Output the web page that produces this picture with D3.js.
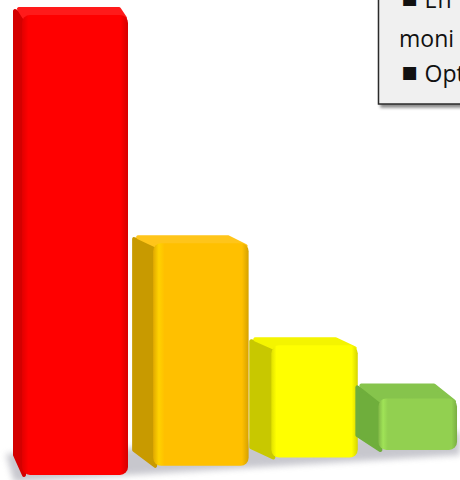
<!DOCTYPE html>
<html>
<head>
<meta charset="utf-8">
<script src="https://cdn.jsdelivr.net/npm/d3@7"></script>
<style>
  html, body { margin: 0; padding: 0; background: #ffffff; }
  svg { display: block; }
</style>
</head>
<body>
<svg id="chart" width="460" height="480"></svg>
<script>
// ---- data ----
const categories = ["Critical", "High", "Medium", "Low"];
const values = [100, 51, 27, 13];
const barColors = ["#ff0000", "#ffc000", "#ffff00", "#92d050"];
const sideColors = ["#d40000", "#c89a00", "#c8c800", "#6fae3c"];
const topColors = ["#ff1a1a", "#ffc51a", "#f4f400", "#86c44c"];
const legendLines = [
  { bullet: "\u25AA", text: "  En" },
  { bullet: "", text: "moni" },
  { bullet: "\u25AA", text: " Opt" }
];

const W = 460, H = 480;
const svg = d3.select("#chart");
const defs = svg.append("defs");

// chart-space band scale, then a 1-D perspective projection to screen
const xBand = d3.scaleBand().domain(categories).range([0, 4.75]).paddingInner(0.2).paddingOuter(0);
const pa = 22, pb = 110.65, pc = 0.04383;
const persp = u => pa + pb * u / (1 + pc * u);
const depth = u => 1 + pc * u;
const yScale = d3.scaleLinear().domain([0, 100]).range([0, 470]);
const floorY = x => 480.5 - 0.073 * x;
const sideW = d3.scaleLinear().domain([22, 152, 377]).range([7, 19, 21]).clamp(true);
const topH = d3.scaleLinear().domain([75, 315, 418]).range([8, 8, 15]).clamp(true);
const botH = d3.scaleLinear().domain([22, 152, 267, 377]).range([20, 16, 10, 15]).clamp(true);

// filters
const blur = defs.append("filter").attr("id", "blur").attr("x", "-20%").attr("y", "-50%").attr("width", "140%").attr("height", "200%");
blur.append("feGaussianBlur").attr("stdDeviation", 3);
const ds = defs.append("filter").attr("id", "dshadow").attr("x", "-10%").attr("y", "-10%").attr("width", "130%").attr("height", "130%");
ds.append("feDropShadow").attr("dx", 2.5).attr("dy", 3).attr("stdDeviation", 1.5).attr("flood-color", "#000").attr("flood-opacity", 0.45);

// front-face gradients
barColors.forEach((c, i) => {
  const g = defs.append("linearGradient").attr("id", "fg" + i).attr("x1", 0).attr("x2", 1).attr("y1", 0).attr("y2", 0);
  const base = d3.color(c);
  g.append("stop").attr("offset", "0%").attr("stop-color", base.darker(0.35));
  g.append("stop").attr("offset", "6%").attr("stop-color", base.brighter(0.25));
  g.append("stop").attr("offset", "12%").attr("stop-color", c);
  g.append("stop").attr("offset", "93%").attr("stop-color", c);
  g.append("stop").attr("offset", "100%").attr("stop-color", base.darker(0.5));
});

// floor shadow
const shadowPts = [[6, 454], [W, 432], [W, 455], [14, 482]];
svg.append("path")
  .attr("d", d3.line()(shadowPts) + "Z")
  .attr("fill", "#9a9aa6")
  .attr("opacity", 0.55)
  .attr("filter", "url(#blur)");

// bars
const bars = categories.map((c, i) => {
  const u0 = xBand(c), u1 = u0 + xBand.bandwidth(), uc = (u0 + u1) / 2;
  const L = persp(u0), R = persp(u1), xc = persp(uc);
  const B = floorY(xc);
  const h = yScale(values[i]) / depth(uc);
  return { i, L, R, B, T: B - h, sw: sideW(L), th: topH(xc), bh: botH(L) };
});

const g = svg.selectAll("g.bar").data(bars).join("g").attr("class", "bar");

// side face
g.append("path")
  .attr("d", d => d3.line()([[d.L + 2, d.T + 2], [d.L - d.sw, d.T - d.th + 4], [d.L - d.sw, d.B - d.bh], [d.L + 2, d.B]]) + "Z")
  .attr("fill", d => sideColors[d.i])
  .attr("stroke", d => sideColors[d.i])
  .attr("stroke-width", 4)
  .attr("stroke-linejoin", "round");

// top face
g.append("path")
  .attr("d", d => d3.line()([[d.L + 2, d.T + 2], [d.L - d.sw + 4, d.T - d.th + 2], [d.R - d.sw - 2, d.T - d.th + 2], [d.R - 3, d.T + 3]]) + "Z")
  .attr("fill", d => topColors[d.i])
  .attr("stroke", d => topColors[d.i])
  .attr("stroke-width", 4)
  .attr("stroke-linejoin", "round");

// front face
g.append("rect")
  .attr("x", d => d.L)
  .attr("y", d => d.T)
  .attr("width", d => d.R - d.L)
  .attr("height", d => d.B - d.T)
  .attr("rx", 8).attr("ry", 8)
  .attr("fill", d => "url(#fg" + d.i + ")");

// legend / text box (partly off-canvas)
const box = svg.append("g");
box.append("rect")
  .attr("x", 378.5).attr("y", -20)
  .attr("width", 120).attr("height", 124)
  .attr("fill", "#f0f0f0")
  .attr("stroke", "#2a2a2a")
  .attr("stroke-width", 1.5)
  .attr("filter", "url(#dshadow)");

const lineY = [8, 47, 82];
const lineX = [401, 399, 401];
legendLines.forEach((ln, k) => {
  const t = box.append("text")
    .attr("x", lineX[k]).attr("y", lineY[k])
    .attr("font-family", "'Open Sans', 'Liberation Sans', sans-serif")
    .attr("font-size", 23)
    .attr("fill", "#111");
  if (ln.bullet) {
    t.append("tspan").attr("font-family", "'DejaVu Sans', sans-serif").attr("font-size", 26).attr("dy", -2).text(ln.bullet);
    t.append("tspan").attr("dy", 2).text(ln.text);
  } else {
    t.text(ln.text);
  }
});
</script>
</body>
</html>
